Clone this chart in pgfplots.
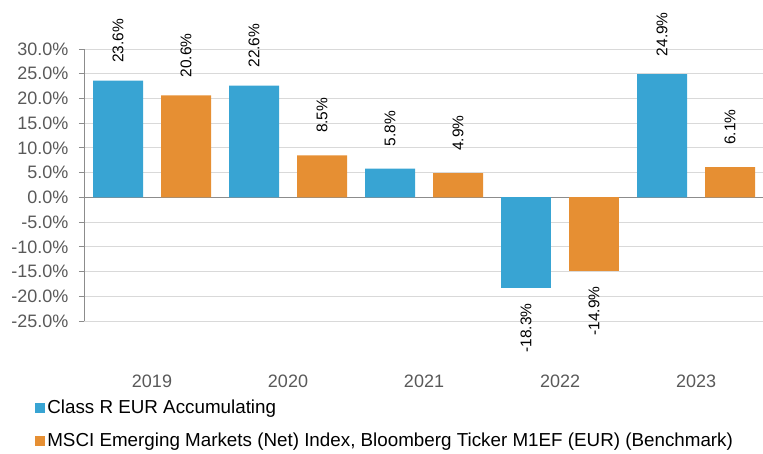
\documentclass[border=0pt]{standalone}
\usepackage{pgfplots}
\pgfplotsset{compat=1.18}
\usepackage{fontspec}
\setmainfont{Liberation Sans}
\definecolor{barblue}{HTML}{38A4D3}
\definecolor{barorange}{HTML}{E68F33}
\definecolor{gridgray}{HTML}{D9D9D9}
\definecolor{axisgray}{HTML}{8C8C8C}
\definecolor{labgray}{HTML}{595959}
\begin{document}
\begin{tikzpicture}
\begin{axis}[
  at={(84pt,132pt)}, anchor=south west,
  scale only axis, width=679pt, height=272pt,
  xmin=-0.5, xmax=9.485, ymin=-25, ymax=30,
  ybar, bar width=50pt,
  separate axis lines,
  axis y line*=left, axis x line*=bottom,
  x axis line style={draw=none},
  y axis line style={draw=axisgray, line width=0.9pt},
  xtick={0.5,2.5,4.5,6.5,8.5},
  xticklabels={2019,2020,2021,2022,2023},
  xtick style={draw=none},
  xticklabel style={anchor=center, yshift=-55pt, font=\fontsize{18pt}{21pt}\selectfont, text=labgray},
  ytick={-25,-20,...,30},
  ymajorgrids, grid style={gridgray, line width=0.9pt},
  tick align=outside, major tick length=5pt,
  ytick style={draw=axisgray, line width=0.9pt},
  yticklabel style={font=\fontsize{18pt}{21pt}\selectfont, text=labgray, xshift=-7pt},
  yticklabel={\pgfmathprintnumber[fixed,fixed zerofill,precision=1]{\tick}\%},
  /pgf/number format/assume math mode=true,
  extra y ticks={0}, extra y tick labels={},
  extra y tick style={grid style={axisgray, line width=1.2pt}, major tick length=5pt},
  nodes near coords={\pgfmathprintnumber[fixed,fixed zerofill,precision=1]{\pgfplotspointmeta}\%},
  every node near coord/.append style={font=\fontsize{15.5pt}{18pt}\selectfont, text=black, anchor=center},
  legend style={draw=none, fill=none, at={(-0.072,-0.283)}, anchor=north west,
    font=\fontsize{18.8pt}{22pt}\selectfont, row sep=14pt, inner sep=0pt,
    cells={anchor=west}},
  legend cell align=left,
  legend image code/.code={\path[#1, draw=none] (0pt,-5pt) rectangle (10pt,5pt);},
  clip=false,
]
\addplot[fill=barblue, draw=none, bar shift=0pt,
  every node near coord/.append style={yshift=40pt, rotate=90}]
  coordinates {(0,23.6) (2,22.6) (4,5.8) (8,24.9)};
\addlegendentry{Class R EUR Accumulating}
\addplot[fill=barorange, draw=none, bar shift=0pt,
  every node near coord/.append style={yshift=40pt, rotate=90}]
  coordinates {(1,20.6) (3,8.5) (5,4.9) (9,6.1)};
\addlegendentry{MSCI Emerging Markets (Net) Index, Bloomberg Ticker M1EF (EUR) (Benchmark)}
\addplot[fill=barblue, draw=none, bar shift=0pt, forget plot,
  every node near coord/.append style={yshift=-40pt, rotate=90}]
  coordinates {(6,-18.3)};
\addplot[fill=barorange, draw=none, bar shift=0pt, forget plot,
  every node near coord/.append style={yshift=-40pt, rotate=90}]
  coordinates {(7,-14.9)};
\end{axis}
\pgfresetboundingbox
\path[use as bounding box] (0pt,0pt) rectangle (763pt,453pt);
\end{tikzpicture}
\end{document}
